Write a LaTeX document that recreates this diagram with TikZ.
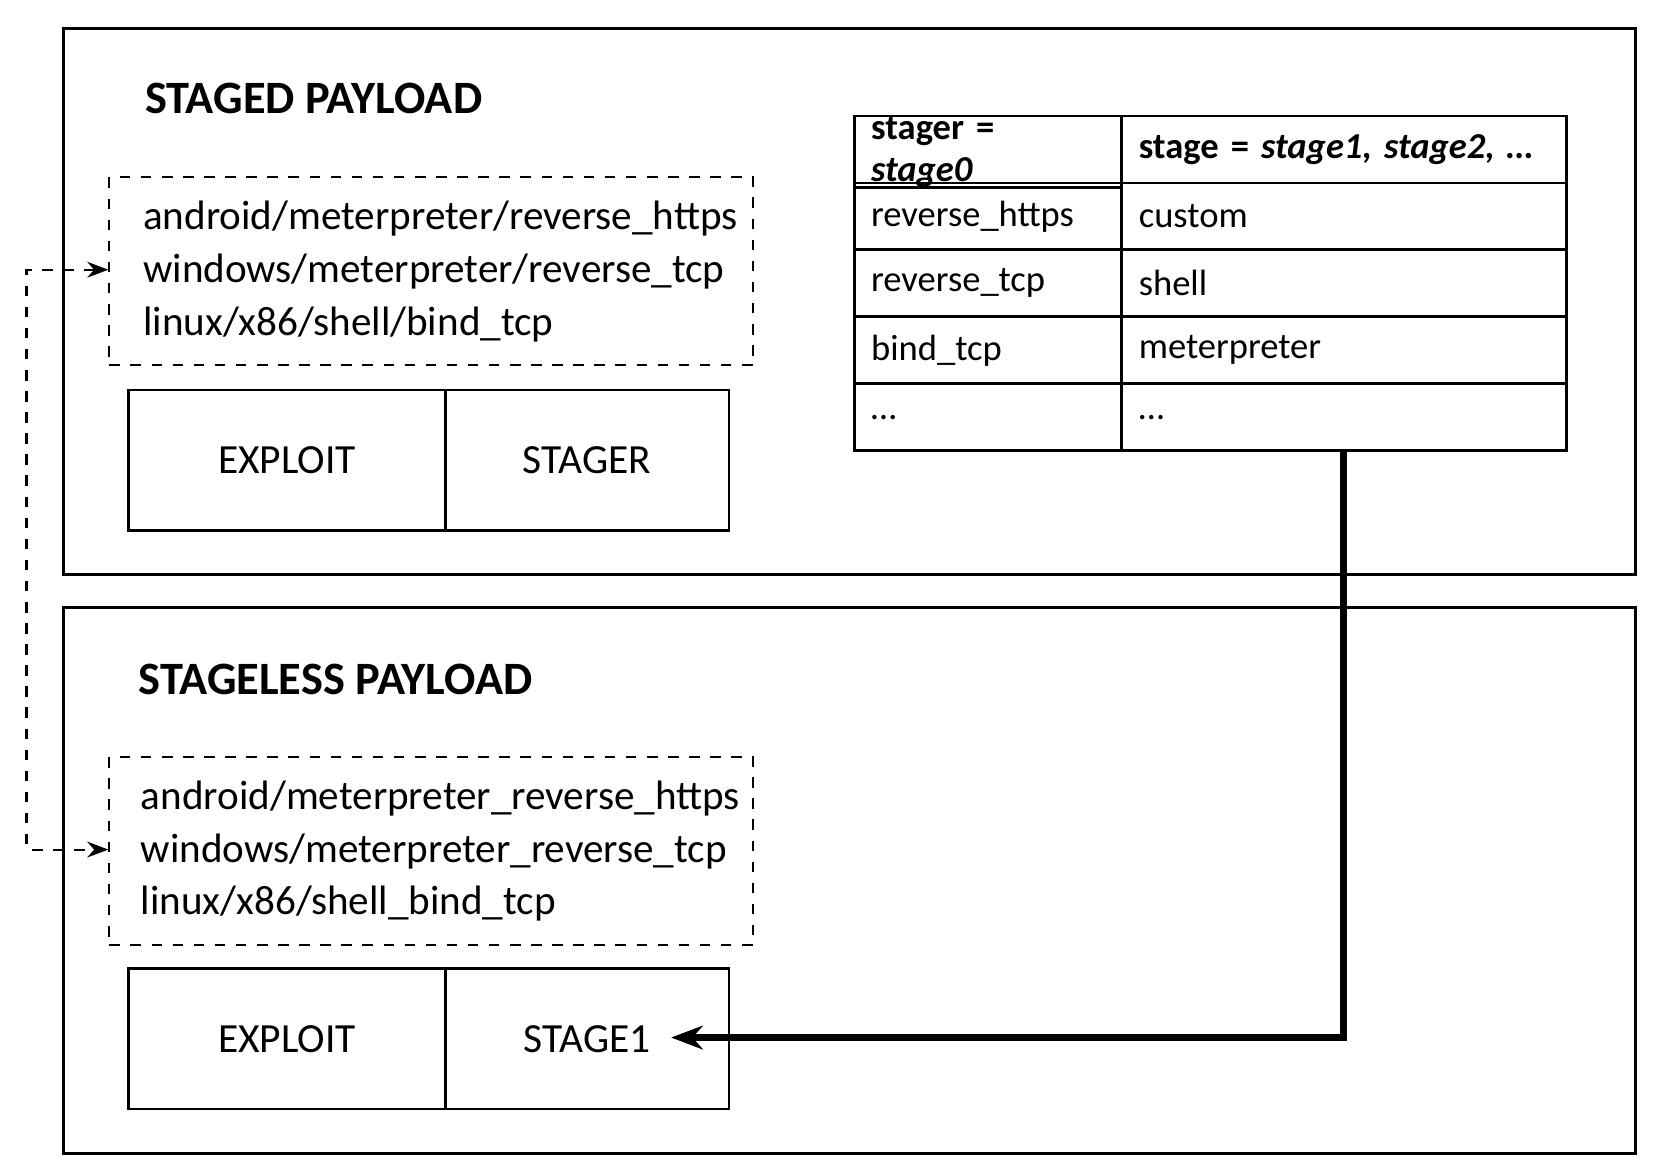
\documentclass[tikz,border=0pt]{standalone}
\usepackage{fontspec}
\setmainfont{Carlito}
\usetikzlibrary{positioning,calc,arrows.meta}
\begin{document}
\begin{tikzpicture}[x=0.01062cm,y=-0.01062cm,
    frame/.style={draw,line width=0.8pt},
    list/.style={draw,dashed,line width=0.6pt,minimum width=6.44cm,minimum height=1.88cm,
      anchor=north west,align=left,font=\fontsize{11.7}{15}\selectfont,inner sep=0pt},
    part/.style={draw,line width=0.8pt,anchor=north west,minimum height=1.402cm,
      font=\fontsize{11.8}{14}\selectfont},
    cell/.style={draw,line width=0.8pt,anchor=north west,minimum height=0.669cm,
      inner xsep=0.17cm,inner ysep=0pt,align=left,font=\fontsize{10.4}{12}\selectfont},
    title/.style={anchor=west,font=\fontsize{13.2}{16}\selectfont\bfseries}]
  \useasboundingbox (0,0) rectangle (1565,1107);
  % outer frames
  \draw[frame] (60,27) rectangle (1540,541);
  \draw[frame] (60,572) rectangle (1540,1086);
  \node[title] (staged) at (125,93) {STAGED PAYLOAD};
  \node[title] (stageless) at (119,640) {STAGELESS PAYLOAD};
  % payload lists
  \node[list] (list1) at (102,166) {\hspace{0.18cm}android/meterpreter/reverse\_https\\
    \hspace{0.18cm}windows/meterpreter/reverse\_tcp\\ \hspace{0.18cm}linux/x86/shell/bind\_tcp};
  \node[list] (list2) at (102,712) {\hspace{0.18cm}android/meterpreter\_reverse\_https\\
    \hspace{0.18cm}windows/meterpreter\_reverse\_tcp\\ \hspace{0.18cm}linux/x86/shell\_bind\_tcp};
  % exploit parts
  \node[part,minimum width=3.165cm] (exploit1) at (120,366) {EXPLOIT};
  \node[part,minimum width=2.836cm] (stager) at (418,366) {STAGER};
  \node[part,minimum width=3.165cm] (exploit2) at (120,911) {EXPLOIT};
  \node[part,minimum width=2.836cm] (stage1) at (418,911) {STAGE1};
  % table
  \foreach \i/\a/\b in {0/{\textbf{stager = \textit{stage0}}}/{\textbf{stage = \textit{stage1, stage2, \dots}}},
      1/reverse\_https/custom, 2/reverse\_tcp/shell, 3/bind\_tcp/meterpreter, 4/{\dots}/{\dots}}{
    \node[cell,text width=2.336cm] (l\i) at (803,108+63*\i) {\a};
    \node[cell,text width=4.11cm] (r\i) at (1055,108+63*\i) {\b};
  }
  % connectors
  \coordinate (left) at (25,0);
  \coordinate (drop) at (1265,0);
  \draw[dashed,line width=0.6pt,{Stealth[length=6pt]}-{Stealth[length=6pt]}]
    (list1.west |- 0,254) -- (left |- 0,254) -- (left |- 0,800) -- (list2.west |- 0,800);
  \coordinate (tip) at (632,977);
  \draw[line width=2pt,-{Stealth[length=9pt]}] (drop |- r4.south) -- (drop |- tip) -- (tip);
\end{tikzpicture}
\end{document}
